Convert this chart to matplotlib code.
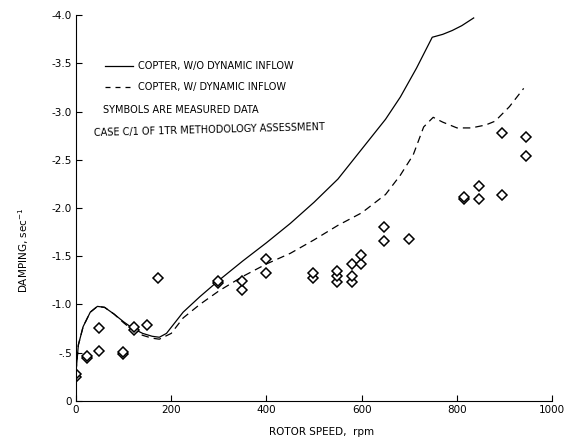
import matplotlib
matplotlib.use("Agg")
import matplotlib.pyplot as plt

# courbe sans inflow dynamique (trait plein)
rpm_sans = [0, 5, 15, 30, 45, 60, 80, 100, 120, 140, 160, 175, 190, 225, 260, 300, 350, 400,
            450, 500, 550, 600, 650, 681, 715, 748, 770, 790, 810, 835]
amort_sans = [-0.30, -0.58, -0.77, -0.92, -0.98, -0.97, -0.90, -0.82, -0.75, -0.70, -0.67, -0.66,
              -0.70, -0.92, -1.08, -1.25, -1.45, -1.64, -1.84, -2.06, -2.30, -2.61, -2.92, -3.15,
              -3.45, -3.77, -3.80, -3.84, -3.89, -3.97]

# courbe avec inflow dynamique (tirets)
rpm_avec = [0, 5, 15, 30, 45, 60, 80, 100, 120, 140, 160, 175, 200, 225, 260, 300, 350, 400,
            450, 500, 550, 600, 650, 681, 708, 730, 750, 770, 800, 830, 860, 880, 910, 940]
amort_avec = [-0.30, -0.58, -0.77, -0.92, -0.98, -0.97, -0.90, -0.81, -0.73, -0.68, -0.65, -0.64,
              -0.70, -0.86, -1.00, -1.14, -1.29, -1.42, -1.53, -1.67, -1.82, -1.95, -2.14, -2.34,
              -2.55, -2.84, -2.94, -2.89, -2.83, -2.83, -2.86, -2.90, -3.05, -3.24]

# points mesures
rpm_mesure = [0, 0, 23, 23, 48, 48, 99, 99, 122, 122, 149, 173, 298, 298, 349, 349, 398, 398,
              498, 498, 548, 548, 548, 580, 580, 580, 599, 599, 647, 647, 700, 815, 815, 847,
              847, 895, 895, 945, 945]
amort_mesure = [-0.25, -0.28, -0.45, -0.47, -0.52, -0.76, -0.49, -0.51, -0.73, -0.77, -0.79, -1.27,
                -1.22, -1.24, -1.15, -1.24, -1.33, -1.47, -1.27, -1.33, -1.23, -1.29, -1.35, -1.23,
                -1.30, -1.42, -1.42, -1.51, -1.66, -1.80, -1.68, -2.09, -2.11, -2.09, -2.23, -2.13,
                -2.78, -2.54, -2.74]

x_ticks = [0, 200, 400, 600, 800, 1000]
y_ticks = [0, -0.5, -1.0, -1.5, -2.0, -2.5, -3.0, -3.5, -4.0]
y_labels = ["0", "-.5", "-1.0", "-1.5", "-2.0", "-2.5", "-3.0", "-3.5", "-4.0"]

fig = plt.figure(figsize=(5.67, 4.43), dpi=100)
ax = fig.add_axes([0.134, 0.095, 0.840, 0.871])

ax.plot(rpm_sans, amort_sans, color="black", lw=0.9)
ax.plot(rpm_avec, amort_avec, color="black", lw=0.9, dashes=(6, 4))
ax.plot(rpm_mesure, amort_mesure, linestyle="none", marker="D", ms=4.8,
        mfc="white", mec="black", mew=1.1)

ax.set_xlim(0, 1000)
ax.set_ylim(0, -4.0)
ax.set_xticks(x_ticks)
ax.set_yticks(y_ticks)
ax.set_yticklabels(y_labels)
ax.tick_params(direction="in", length=4, labelsize=7.5, pad=3)
ax.spines["top"].set_visible(False)
ax.spines["right"].set_visible(False)

# Légende écrite dans le graphique
ax.plot([61, 120], [-3.47, -3.47], color="black", lw=0.9)
ax.plot([61, 120], [-3.25, -3.25], color="black", lw=0.9, dashes=(4, 4))
ax.text(130, -3.47, "COPTER, W/O DYNAMIC INFLOW", fontsize=7, va="center")
ax.text(130, -3.25, "COPTER, W/ DYNAMIC INFLOW", fontsize=7, va="center")
ax.text(57, -3.02, "SYMBOLS ARE MEASURED DATA", fontsize=7, va="center")
ax.text(38, -2.81, "CASE C/1 OF 1TR METHODOLOGY ASSESSMENT", fontsize=7, va="center", rotation=1.5)

ax.set_xlabel("ROTOR SPEED,  rpm", fontsize=7.5)
ax.set_ylabel("DAMPING, sec$^{-1}$", fontsize=7.5)
ax.xaxis.set_label_coords(0.515, -0.068)
ax.yaxis.set_label_coords(-0.095, 0.39)

fig.savefig("out.png", dpi=100)
